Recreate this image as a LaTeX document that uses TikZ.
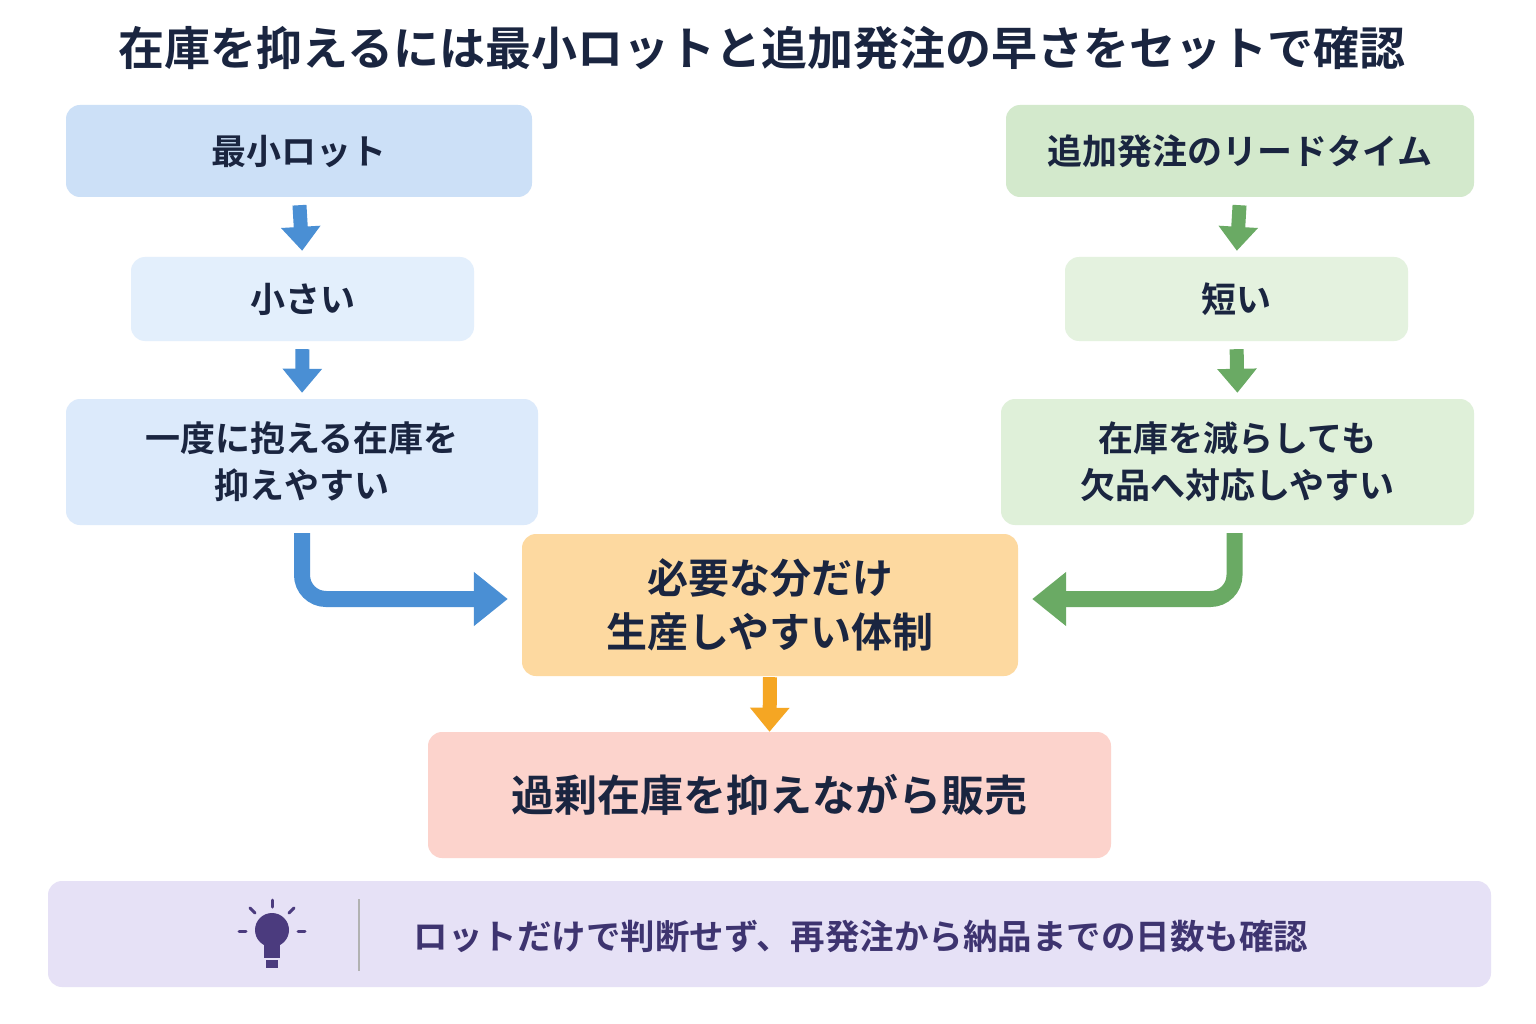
\documentclass[tikz,border=0pt]{standalone}
\usepackage{fontspec}
\setmainfont{Noto Sans CJK JP}[BoldFont={* Bold}]
\usetikzlibrary{arrows.meta}
\definecolor{ink}{HTML}{1A2540}
\definecolor{bA}{HTML}{CCE0F7}\definecolor{bB}{HTML}{E3EFFC}\definecolor{bC}{HTML}{DCEAFB}
\definecolor{gA}{HTML}{D3E9CC}\definecolor{gB}{HTML}{E4F2DF}\definecolor{gC}{HTML}{DFF0D9}
\definecolor{oC}{HTML}{FDD9A0}\definecolor{rC}{HTML}{FCD3CC}\definecolor{pC}{HTML}{E6E1F6}
\definecolor{blu}{HTML}{4A8FD4}\definecolor{grn}{HTML}{6AAA64}\definecolor{org}{HTML}{F5A623}
\definecolor{pur}{HTML}{4B3B7E}\definecolor{ptx}{HTML}{3E3470}
\tikzset{
 box/.style={rounded corners=14pt,draw=none,align=center,text=ink,font=\fontsize{35}{47}\selectfont\bfseries,inner sep=0pt},
 arr/.style={line width=14pt,-{Triangle[length=24pt,width=38pt]}},
 barr/.style={line width=16pt,-{Triangle[length=34pt,width=52pt]}},
}
\newcommand{\bx}[6]{\node[box,fill=#5,minimum width=#3-#1,minimum height=#4-#2] (#6) at ({(#1+#3)/2},{(#2+#4)/2})}
\begin{document}
\begin{tikzpicture}[x=1pt,y=-1pt]
\useasboundingbox[fill=white] (0,0) rectangle (1536,1024);
\node[text=ink,font=\fontsize{46}{52}\selectfont\bfseries] (title) at (762,48) {在庫を抑えるには最小ロットと追加発注の早さをセットで確認};
\bx{66}{105}{532}{197}{bA}{a1} {最小ロット};
\bx{131}{257}{474}{341}{bB}{a2} {小さい};
\bx{66}{399}{538}{525}{bC}{a3} {一度に抱える在庫を\\抑えやすい};
\bx{1006}{105}{1474}{197}{gA}{g1} {追加発注のリードタイム};
\bx{1065}{257}{1408}{341}{gB}{g2} {短い};
\bx{1001}{399}{1474}{525}{gC}{g3} {在庫を減らしても\\欠品へ対応しやすい};
\node[box,fill=oC,minimum width=496,minimum height=142,font=\fontsize{41}{54}\selectfont\bfseries] (c) at (770,605) {必要な分だけ\\生産しやすい体制};
\node[box,fill=rC,minimum width=683,minimum height=126,font=\fontsize{43}{50}\selectfont\bfseries] (r) at (769.5,795) {過剰在庫を抑えながら販売};
\node[box,fill=pC,minimum width=1443,minimum height=106] (tip) at (769.5,934) {};
\draw[blu,arr,shorten <=8pt,shorten >=6pt] (a1.south) -- (a2.north);
\draw[blu,arr,shorten <=8pt,shorten >=6pt] (a2.south) -- (a3.north);
\draw[grn,arr,shorten <=8pt,shorten >=6pt] (g1.south) -- (g2.north);
\draw[grn,arr,shorten <=8pt,shorten >=6pt] (g2.south) -- (g3.north);
\draw[org,arr,shorten <=1pt,shorten >=0pt] (c.south) -- (r.north);
\draw[blu,barr,rounded corners=24pt,shorten <=8pt,shorten >=14pt] (a3.south) |- ([yshift=6pt]c.west);
\draw[grn,barr,rounded corners=24pt,shorten <=8pt,shorten >=14pt] ([xshift=-3pt]g3.south) |- ([yshift=6pt]c.east);
% bulb
\fill[pur] (272,930) circle (17);
\fill[pur] (264,940) rectangle (280,958);
\fill[pur] (266,960) rectangle (278,968);
\begin{scope}[pur,line width=3pt,line cap=round]
\draw (272,900)--(272,907); \draw (250,908)--(255,913); \draw (294,908)--(289,913);
\draw (239,931)--(246,931); \draw (298,931)--(305,931);
\end{scope}
\coordinate (s1) at (359,899); \coordinate (s2) at (359,971);
\draw[gray!60,line width=2pt] (s1)--(s2);
\node[anchor=west,text=ptx,font=\fontsize{34.5}{40}\selectfont\bfseries] (tt) at (410,936) {ロットだけで判断せず、再発注から納品までの日数も確認};
\end{tikzpicture}
\end{document}
